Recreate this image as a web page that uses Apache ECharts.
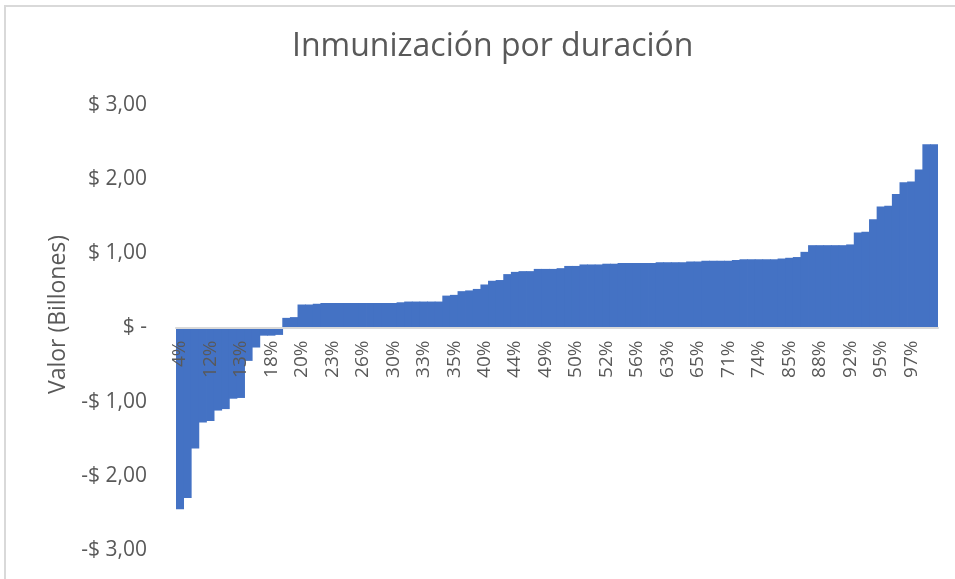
<!DOCTYPE html>
<html>
<head>
<meta charset="utf-8">
<script src="https://cdn.jsdelivr.net/npm/echarts@6/dist/echarts.min.js"></script>
<style>
  html, body { margin: 0; padding: 0; background: #fff; }
  #chart { width: 955px; height: 579px; }
  .frame {
    position: absolute; left: 4px; top: 5px; right: 0; bottom: 0;
    border-left: 2px solid #d9d9d9; border-top: 2px solid #d9d9d9;
    pointer-events: none;
  }
</style>
</head>
<body>
<div id="chart"></div>
<div class="frame"></div>
<script>
// percentiles (only every 4th one is printed on the axis)
const categories = [
  '4%', '6%', '8%', '10%', '12%', '12%', '13%', '13%', '13%', '14%',
  '15%', '16%', '18%', '18%', '19%', '19%', '20%', '21%', '22%', '22%',
  '23%', '24%', '25%', '25%', '26%', '27%', '28%', '29%', '30%', '31%',
  '32%', '32%', '33%', '34%', '34%', '35%', '35%', '37%', '38%', '39%',
  '40%', '41%', '42%', '43%', '44%', '45%', '47%', '48%', '49%', '49%',
  '50%', '50%', '50%', '51%', '51%', '52%', '52%', '53%', '54%', '55%',
  '56%', '58%', '59%', '61%', '63%', '63%', '64%', '64%', '65%', '67%',
  '68%', '70%', '71%', '72%', '73%', '73%', '74%', '76%', '79%', '82%',
  '85%', '86%', '86%', '87%', '88%', '89%', '90%', '91%', '92%', '93%',
  '93%', '94%', '95%', '96%', '96%', '97%', '97%', '98%', '99%', '100%'
]

// valor en billones
const valores = [
  -2.45, -2.30, -1.63, -1.28, -1.26, -1.12, -1.10, -0.96, -0.95, -0.45,
  -0.27, -0.11, -0.11, -0.10, 0.13, 0.14, 0.31, 0.31, 0.32, 0.33,
  0.33, 0.33, 0.33, 0.33, 0.33, 0.33, 0.33, 0.33, 0.33, 0.34,
  0.35, 0.35, 0.35, 0.35, 0.35, 0.43, 0.44, 0.49, 0.50, 0.52,
  0.58, 0.63, 0.64, 0.72, 0.75, 0.76, 0.76, 0.79, 0.79, 0.79,
  0.80, 0.83, 0.83, 0.85, 0.85, 0.85, 0.86, 0.86, 0.87, 0.87,
  0.87, 0.87, 0.87, 0.88, 0.88, 0.88, 0.88, 0.89, 0.89, 0.90,
  0.90, 0.90, 0.90, 0.91, 0.92, 0.92, 0.92, 0.92, 0.92, 0.93,
  0.94, 0.95, 1.02, 1.11, 1.11, 1.11, 1.11, 1.11, 1.12, 1.28,
  1.29, 1.46, 1.63, 1.64, 1.80, 1.96, 1.97, 2.13, 2.47, 2.47
]

const yTicks = [-3, -2, -1, 0, 1, 2, 3]
const yTickLabels = ['-$ 3,00', '-$ 2,00', '-$ 1,00', '$ -', '$ 1,00', '$ 2,00', '$ 3,00']

const font = '"Open Sans", "Noto Sans", sans-serif'
const grey = '#595959'

const gridTop = 105
const gridBottom = 29
const plotHeight = 579 - gridTop - gridBottom

const myChart = echarts.init(document.getElementById('chart'))
const option = {
  animation: false,
  title: {
    text: 'Inmunización por duración',
    left: 287,
    top: 26,
    textStyle: { color: grey, fontSize: 32, fontWeight: 'normal', fontFamily: font }
  },
  grid: {
    left: 176, right: 17, top: gridTop, bottom: gridBottom,
    containLabel: false, outerBoundsMode: 'none'
  },
  xAxis: {
    type: 'category',
    data: categories,
    z: 5,
    // put the axis (and its labels) on the zero line, which sits mid-height
    offset: -plotHeight / 2,
    axisLine: { onZero: false, lineStyle: { color: '#d9d9d9', width: 2 } },
    axisTick: { show: false },
    axisLabel: {
      interval: 3,
      rotate: 90,
      margin: 13,
      color: grey,
      fontSize: 19,
      fontFamily: font
    }
  },
  yAxis: {
    type: 'value',
    min: -3,
    max: 3,
    interval: 1,
    name: 'Valor (Billones)',
    nameLocation: 'middle',
    nameGap: 104,
    nameTextStyle: { color: grey, fontSize: 23, fontFamily: font, padding: [0, 0, 0, 26] },
    axisLine: { show: false },
    axisTick: { show: false },
    splitLine: { show: false },
    axisLabel: {
      margin: 29,
      color: grey,
      fontSize: 21,
      fontFamily: font,
      formatter: function (v) {
        const i = yTicks.indexOf(v)
        return i >= 0 ? yTickLabels[i] : ''
      }
    }
  },
  series: [
    {
      type: 'bar',
      data: valores,
      barWidth: 8.4,
      barCategoryGap: 0,
      itemStyle: { color: '#4472c4' }
    }
  ]
}
myChart.setOption(option)
window.addEventListener('resize', function () {
  myChart.resize()
})
</script>
</body>
</html>
